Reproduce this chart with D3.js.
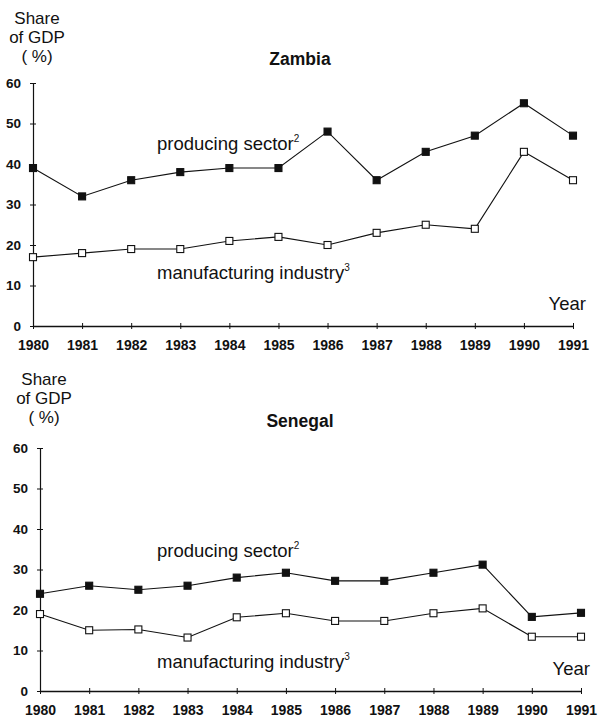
<!DOCTYPE html>
<html>
<head>
<meta charset="utf-8">
<script src="https://cdn.jsdelivr.net/npm/d3@7"></script>
<style>
  html, body { margin: 0; padding: 0; background: #fff; }
  svg { display: block; }
  text { font-family: "Liberation Sans", Arial, Helvetica, sans-serif; fill: #111; }
</style>
</head>
<body>
<svg id="chart" width="600" height="717"></svg>
<script>
// Share of GDP (%) by year
const years = [1980, 1981, 1982, 1983, 1984, 1985, 1986, 1987, 1988, 1989, 1990, 1991];
const yTicks = [0, 10, 20, 30, 40, 50, 60];

const zambiaProducing      = [39, 32, 36, 38, 39, 39, 48, 36, 43, 47, 55, 47];
const zambiaManufacturing  = [17, 18, 19, 19, 21, 22, 20, 23, 25, 24, 43, 36];
const senegalProducing     = [24, 26, 25, 26, 28, 29.2, 27.2, 27.2, 29.2, 31.2, 18.3, 19.3];
const senegalManufacturing = [19, 15, 15.2, 13.2, 18.2, 19.2, 17.3, 17.3, 19.2, 20.4, 13.4, 13.4];

const panels = [
  { title: "Zambia",  producing: zambiaProducing,  manufacturing: zambiaManufacturing,
    left: 33, right: 573, top: 83, bottom: 326, titleY: 65, headY: 24,
    prodLabelY: 150, manuLabelY: 279, yearY: 310, yearX: 586 },
  { title: "Senegal", producing: senegalProducing, manufacturing: senegalManufacturing,
    left: 40, right: 581, top: 448, bottom: 691, titleY: 427, headY: 385,
    prodLabelY: 557, manuLabelY: 668, yearY: 675, yearX: 590 }
];

const svg = d3.select("#chart");
const markSize = 7;

panels.forEach(p => {
  const g = svg.append("g");
  const x = d3.scaleLinear().domain([years[0], years[years.length - 1]]).range([p.left, p.right]);
  const y = d3.scaleLinear().domain([0, 60]).range([p.bottom, p.top]);

  // axis heading
  const head = g.append("text").attr("text-anchor", "middle").attr("font-size", 17);
  ["Share", "of GDP", "( %)"].forEach((t, i) => {
    head.append("tspan").attr("x", p.left + 4).attr("y", p.headY + i * 19).text(t);
  });

  // title
  g.append("text").attr("x", 300).attr("y", p.titleY)
    .attr("text-anchor", "middle").attr("font-size", 17.5).attr("font-weight", "bold")
    .text(p.title);

  // y axis
  const yAxis = g.append("g").attr("transform", `translate(${p.left},0)`)
    .call(d3.axisLeft(y).tickValues(yTicks).tickSizeInner(3).tickSizeOuter(0).tickPadding(9));
  yAxis.select(".domain").attr("stroke", "#111").attr("stroke-width", 1.2);
  yAxis.selectAll(".tick line").attr("x1", -3).attr("x2", 3).attr("stroke", "#111");
  yAxis.selectAll(".tick text").attr("font-size", 13.5).attr("font-weight", "bold")
    .attr("font-family", "Liberation Sans, Arial, sans-serif").attr("fill", "#111");

  // x axis
  const xAxis = g.append("g").attr("transform", `translate(0,${p.bottom})`)
    .call(d3.axisBottom(x).tickValues(years).tickFormat(d3.format("d"))
      .tickSizeInner(3).tickSizeOuter(0).tickPadding(11));
  xAxis.select(".domain").attr("stroke", "#111").attr("stroke-width", 1.4);
  xAxis.selectAll(".tick line").attr("y1", -3).attr("y2", 3).attr("stroke", "#111");
  xAxis.selectAll(".tick text").attr("font-size", 14).attr("font-weight", "bold")
    .attr("font-family", "Liberation Sans, Arial, sans-serif").attr("fill", "#111");

  // series lines and markers
  const line = d3.line().x((d, i) => x(years[i])).y(d => y(d));
  [
    { values: p.producing, fill: "#111" },
    { values: p.manufacturing, fill: "#fff" }
  ].forEach(s => {
    g.append("path").datum(s.values)
      .attr("d", line).attr("fill", "none").attr("stroke", "#111").attr("stroke-width", 1.1);
    g.selectAll(null).data(s.values).enter().append("rect")
      .attr("x", (d, i) => x(years[i]) - markSize / 2)
      .attr("y", d => y(d) - markSize / 2)
      .attr("width", markSize).attr("height", markSize)
      .attr("fill", s.fill).attr("stroke", "#111").attr("stroke-width", 1.1);
  });

  // series labels
  const prod = g.append("text").attr("x", 157).attr("y", p.prodLabelY).attr("font-size", 18.5);
  prod.append("tspan").text("producing sector");
  prod.append("tspan").attr("font-size", 10).attr("dy", -8).text("2");

  const manu = g.append("text").attr("x", 157).attr("y", p.manuLabelY).attr("font-size", 18.5);
  manu.append("tspan").text("manufacturing industry");
  manu.append("tspan").attr("font-size", 10).attr("dy", -8).text("3");

  g.append("text").attr("x", p.yearX).attr("y", p.yearY)
    .attr("text-anchor", "end").attr("font-size", 18.5).text("Year");
});
</script>
</body>
</html>
